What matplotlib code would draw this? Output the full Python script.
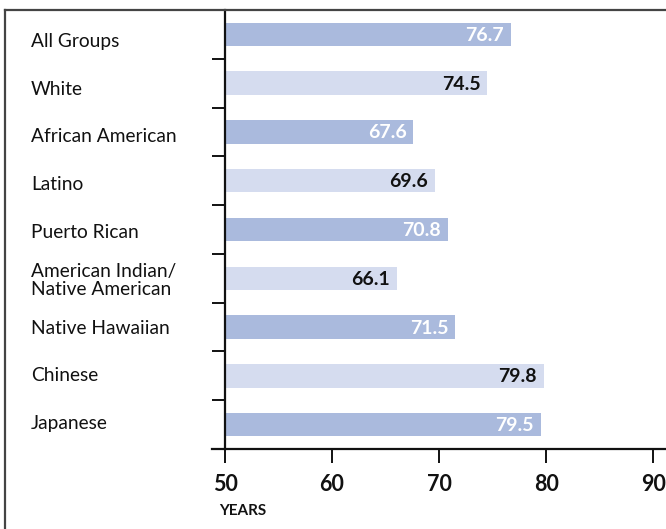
import matplotlib
matplotlib.use("Agg")
import matplotlib.pyplot as plt
from matplotlib.lines import Line2D
import matplotlib.transforms as mtransforms

categories = ["All Groups", "White", "African American", "Latino", "Puerto Rican",
              "American Indian/\nNative American", "Native Hawaiian", "Chinese", "Japanese"]
values = [76.7, 74.5, 67.6, 69.6, 70.8, 66.1, 71.5, 79.8, 79.5]
xticks = [50, 60, 70, 80, 90]

dark = "#aabadd"
light = "#d5dcef"
colors = [dark if i % 2 == 0 else light for i in range(len(values))]
txtcolors = ["white" if i % 2 == 0 else "#111111" for i in range(len(values))]

plt.rcParams['font.family'] = ['Lato', 'DejaVu Sans']

W, H = 666, 529
fig = plt.figure(figsize=(W / 100, H / 100), dpi=100)
ax = fig.add_axes([225 / W, (H - 449) / H, 1 - 225 / W, (449 - 10) / H])

ypos = list(range(len(values)))
lefts = [50] * len(values)
widths = [v - 50 for v in values]
ax.barh(ypos, widths, left=lefts, height=0.48, color=colors, zorder=2)

ax.set_xlim(50, 91.2)
ax.set_ylim(len(values) - 0.5, -0.5)

for spine in ["top", "right"]:
    ax.spines[spine].set_visible(False)
for spine in ["left", "bottom"]:
    ax.spines[spine].set_linewidth(1.6)
    ax.spines[spine].set_color("#111111")

ax.set_xticks(xticks)
ax.set_xticklabels([str(t) for t in xticks], fontsize=15.5, fontweight="bold")
ax.tick_params(axis="x", length=10, width=1.4, pad=8, colors="#111111")
ax.set_yticks([i + 0.5 for i in range(len(values) - 1)])
ax.set_yticklabels([])
ax.tick_params(axis="y", length=9.4, width=1.4, colors="#111111")

# extend x-axis line to the left
ax.add_line(Line2D([-13 / 441, 0], [0, 0], transform=ax.transAxes, color="#111111",
                   lw=1.6, clip_on=False))

# value labels
for i, v in enumerate(values):
    ax.text(v - 0.65, i + 0.02, f"{v:.1f}", ha="right", va="center", fontsize=14,
            fontweight="bold", color=txtcolors[i], zorder=3)

# category labels (slightly tighter spacing than the bars)
trans = mtransforms.blended_transform_factory(fig.transFigure, ax.transData)
for i, c in enumerate(categories):
    ax.text(31 / W, i + 0.143 - 0.02 * i, c, ha="left", va="center", fontsize=13.8,
            color="#111111", transform=trans, linespacing=1.08)

fig.text(219 / W, 1 - 511 / H, "YEARS", ha="left", va="center", fontsize=11,
         fontweight="bold", color="#111111")

# frame lines
fig.add_artist(Line2D([5 / W, 1], [1 - 10 / H, 1 - 10 / H], transform=fig.transFigure,
                      color="#444444", lw=1.6))
fig.add_artist(Line2D([5 / W, 5 / W], [0, 1 - 10 / H], transform=fig.transFigure,
                      color="#444444", lw=1.6))

fig.savefig("out.png", dpi=100)
